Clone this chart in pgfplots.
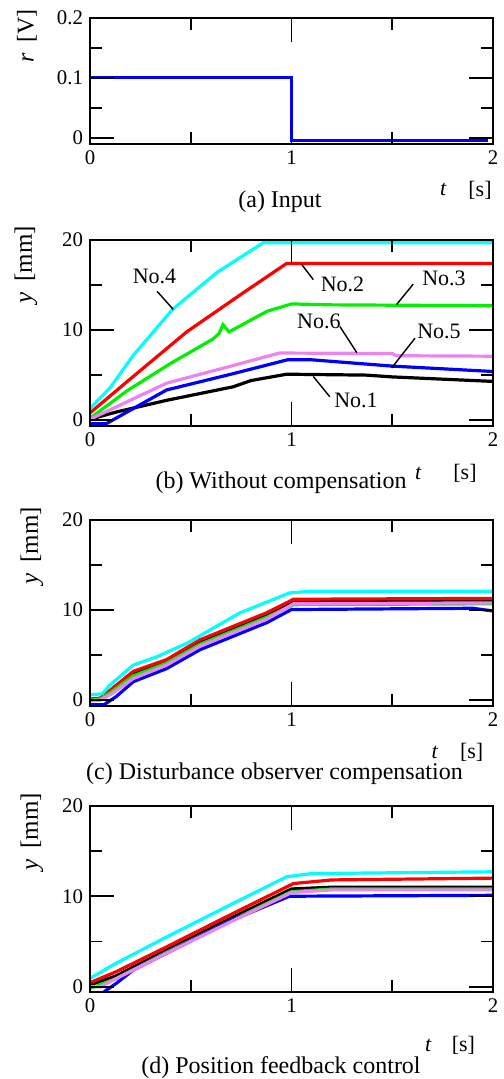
\documentclass[border=0pt]{standalone}
\usepackage{fontspec}
\setmainfont{Liberation Serif}
\usepackage{pgfplots}
\pgfplotsset{compat=1.18}

\definecolor{cCyan}{RGB}{0,255,255}
\definecolor{cRed}{RGB}{255,0,0}
\definecolor{cGreen}{RGB}{0,240,0}
\definecolor{cBlue}{RGB}{0,0,255}
\definecolor{cPink}{RGB}{238,130,238}

\pgfplotsset{
  panel/.style={
    scale only axis, width=201.5pt, anchor=north west,
    xmin=0, xmax=2, xtick={0,1,2}, minor xtick={0.5,1.5},
    tick style={black, line width=0.9pt},
    tick label style={font=\fontsize{10.4}{12}\selectfont},
    /pgf/number format/assume math mode=true,
    clip=false,
    every axis plot/.append style={line width=1.6pt},
  },
  ypanel/.style={
    panel, height=93pt, ymin=-0.65, ymax=20,
    ytick={0,10,20}, minor ytick={5,15},
  },
}
\tikzset{tk/.style={black, line width=0.9pt}}

% frame and long ticks
% #1 major height (rel), #2 = 1-#1, #3 minor height (rel), #4 = 1-#3
% #5,#6 major y values, #7,#8 minor y values
\newcommand{\frameticks}[8]{%
  \draw[line width=1.2pt] (rel axis cs:0,0) rectangle (rel axis cs:1,1);
  \draw[tk] (rel axis cs:0.5,0) -- (rel axis cs:0.5,#1);
  \draw[tk] (rel axis cs:0.5,1) -- (rel axis cs:0.5,#2);
  \draw[tk] (rel axis cs:0.25,0) -- (rel axis cs:0.25,#3);
  \draw[tk] (rel axis cs:0.25,1) -- (rel axis cs:0.25,#4);
  \draw[tk] (rel axis cs:0.75,0) -- (rel axis cs:0.75,#3);
  \draw[tk] (rel axis cs:0.75,1) -- (rel axis cs:0.75,#4);
  \draw[tk] (axis cs:0,#5) -- (axis cs:0.1191,#5);
  \draw[tk] (axis cs:2,#5) -- (axis cs:1.8809,#5);
  \draw[tk] (axis cs:0,#6) -- (axis cs:0.1191,#6);
  \draw[tk] (axis cs:2,#6) -- (axis cs:1.8809,#6);
  \draw[tk] (axis cs:0,#7) -- (axis cs:0.0596,#7);
  \draw[tk] (axis cs:2,#7) -- (axis cs:1.9404,#7);
  \draw[tk] (axis cs:0,#8) -- (axis cs:0.0596,#8);
  \draw[tk] (axis cs:2,#8) -- (axis cs:1.9404,#8);
}

\begin{document}
\begin{tikzpicture}
\useasboundingbox (0,0) rectangle (251.5pt,-539.5pt);

% (a) input
\begin{axis}[panel, at={(45pt,-9pt)}, height=63pt,
  ymin=-0.01, ymax=0.2, ytick={0,0.1,0.2}, yticklabels={0,0.1,0.2},
  minor ytick={0.05,0.15}]
\addplot[cBlue, line width=1.5pt] coordinates {(0,0.1) (1,0.1) (1,-0.005) (1.975,-0.005)};
\frameticks{0.1905}{0.8095}{0.0952}{0.9048}{0}{0.1}{0.05}{0.15}
\end{axis}

% (b) without compensation
\begin{axis}[ypanel, at={(45pt,-120pt)}]
\addplot[black] coordinates {(0,0.1) (0.13,0.9) (0.38,2.2) (0.71,3.7) (0.8,4.4) (0.976,5.1) (1.37,5.0) (1.5,4.8) (2,4.3)};
\addplot[cRed] coordinates {(0,0.8) (0.18,4.2) (0.48,9.8) (0.745,13.9) (0.976,17.4) (2,17.4)};
\addplot[cGreen] coordinates {(0,0.2) (0.18,3.2) (0.4,6.3) (0.61,9.0) (0.64,9.6) (0.66,10.6) (0.69,9.8) (0.88,12.1) (1.0,12.9) (1.2,12.8) (2,12.7)};
\addplot[cCyan] coordinates {(0,1.3) (0.1,3.6) (0.215,7.2) (0.41,12.3) (0.63,16.4) (0.86,19.7) (2,19.7)};
\addplot[cBlue] coordinates {(0,-0.4) (0.08,-0.4) (0.38,3.35) (0.7,5.1) (0.98,6.7) (1.1,6.7) (1.5,6.0) (2,5.4)};
\addplot[cPink] coordinates {(0,0.1) (0.38,4.1) (0.7,6.0) (0.94,7.45) (1.5,7.4) (1.52,7.15) (2,7.1)};
\frameticks{0.129}{0.871}{0.0645}{0.9355}{0}{10}{5}{15}
\begin{scope}[font=\fontsize{11}{13}\selectfont]
\node at (axis cs:0.32,16.0) {No.4};
\draw[line width=0.7pt] (axis cs:0.333,14.3) -- (axis cs:0.413,12.3);
\node at (axis cs:1.253,15.1) {No.2};
\draw[line width=0.7pt] (axis cs:1.05,17.3) -- (axis cs:1.108,15.6);
\node at (axis cs:1.757,15.7) {No.3};
\draw[line width=0.7pt] (axis cs:1.604,15.1) -- (axis cs:1.522,12.85);
\node at (axis cs:1.136,11.0) {No.6};
\draw[line width=0.7pt] (axis cs:1.24,10.4) -- (axis cs:1.324,7.5);
\node at (axis cs:1.732,9.87) {No.5};
\draw[line width=0.7pt] (axis cs:1.613,9.1) -- (axis cs:1.497,5.8);
\node at (axis cs:1.32,2.2) {No.1};
\draw[line width=0.7pt] (axis cs:1.108,4.85) -- (axis cs:1.19,2.6);
\end{scope}
\end{axis}

% (c) disturbance observer compensation
\begin{axis}[ypanel, at={(45pt,-260pt)}]
\addplot[black] coordinates {(0,0.1) (0.05,0.2) (0.1,1.0) (0.215,2.9) (0.38,4.3) (0.546,6.4) (0.877,9.4) (1.01,11.0) (2,11.0)};
\addplot[cRed] coordinates {(0,0.1) (0.05,0.2) (0.1,1.1) (0.215,3.2) (0.38,4.5) (0.546,6.7) (0.877,9.7) (1.01,11.2) (2,11.3)};
\addplot[cGreen] coordinates {(0,0.0) (0.05,0.1) (0.1,0.8) (0.215,2.7) (0.38,4.1) (0.546,6.2) (0.877,9.2) (1.01,10.6) (2,10.7)};
\addplot[cCyan] coordinates {(0,0.6) (0.06,0.7) (0.1,1.7) (0.215,3.9) (0.33,4.8) (0.48,6.3) (0.745,9.7) (0.99,11.9) (1.1,12.1) (2,12.1)};
\addplot[cBlue] coordinates {(0,-0.5) (0.07,-0.5) (0.13,0.4) (0.215,2.05) (0.38,3.5) (0.546,5.6) (0.877,8.6) (1.0,10.06) (1.9,10.2) (2,9.9)};
\addplot[cPink] coordinates {(0,-0.1) (0.05,0.0) (0.1,0.6) (0.215,2.4) (0.38,3.9) (0.546,6.0) (0.877,9.0) (1.01,10.7) (2,10.8)};
\frameticks{0.129}{0.871}{0.0645}{0.9355}{0}{10}{5}{15}
\end{axis}

% (d) position feedback control
\begin{axis}[ypanel, at={(45pt,-402.85pt)}, ymin=-0.55]
\addplot[black] coordinates {(0,0.2) (0.13,1.2) (0.38,4.05) (0.71,7.7) (1.0,10.8) (1.2,11.0) (2,11.0)};
\addplot[cRed] coordinates {(0,0.45) (0.13,1.66) (0.38,4.4) (0.71,8.1) (1.01,11.4) (1.2,11.8) (2,12.0)};
\addplot[cGreen] coordinates {(0,-0.2) (0.13,0.9) (0.38,3.8) (0.71,7.4) (1.0,10.5) (1.2,10.8) (2,10.8)};
\addplot[cCyan] coordinates {(0,0.93) (0.13,2.6) (0.38,5.5) (0.71,9.2) (0.976,12.15) (1.1,12.5) (2,12.7)};
\addplot[cBlue] coordinates {(0.07,-0.55) (0.13,0.37) (0.215,1.85) (0.38,3.7) (0.71,7.4) (0.99,10.0) (2,10.1)};
\addplot[cPink] coordinates {(0,0) (0.05,0) (0.13,0.9) (0.38,3.7) (0.71,7.3) (1.0,10.4) (1.2,10.7) (2,10.7)};
\frameticks{0.129}{0.871}{0.0645}{0.9355}{0}{10}{5}{15}
\end{axis}

% axis labels and captions
\begin{scope}[font=\fontsize{12}{14}\selectfont]
\node[rotate=90] at (13.5pt,-18pt) {\textit{r}\hspace{0.45em}[V]};
\node[rotate=90,font=\fontsize{12.5}{14}\selectfont] at (13pt,-132.5pt) {\textit{y}\hspace{0.45em}[mm]};
\node[rotate=90,font=\fontsize{12.5}{14}\selectfont] at (16pt,-273pt) {\textit{y}\hspace{0.45em}[mm]};
\node[rotate=90,font=\fontsize{12.5}{14}\selectfont] at (16pt,-416pt) {\textit{y}\hspace{0.45em}[mm]};
\node at (140pt,-101pt) {(a) Input};
\node at (140.5pt,-241.5pt) {(b) Without compensation};
\node at (137.25pt,-387pt) {(c) Disturbance observer compensation};
\node at (140.5pt,-534pt) {(d) Position feedback control};
\end{scope}
\begin{scope}[font=\fontsize{11}{13}\selectfont]
\node at (221.75pt,-94.5pt) {\textit{t}};
\node at (240pt,-95pt) {[s]};
\node at (209.2pt,-236.7pt) {\textit{t}};
\node at (232.5pt,-236.7pt) {[s]};
\node at (217.5pt,-376pt) {\textit{t}};
\node at (235.8pt,-376pt) {[s]};
\node at (214.2pt,-522.5pt) {\textit{t}};
\node at (231.7pt,-522.5pt) {[s]};
\end{scope}
\end{tikzpicture}
\end{document}
